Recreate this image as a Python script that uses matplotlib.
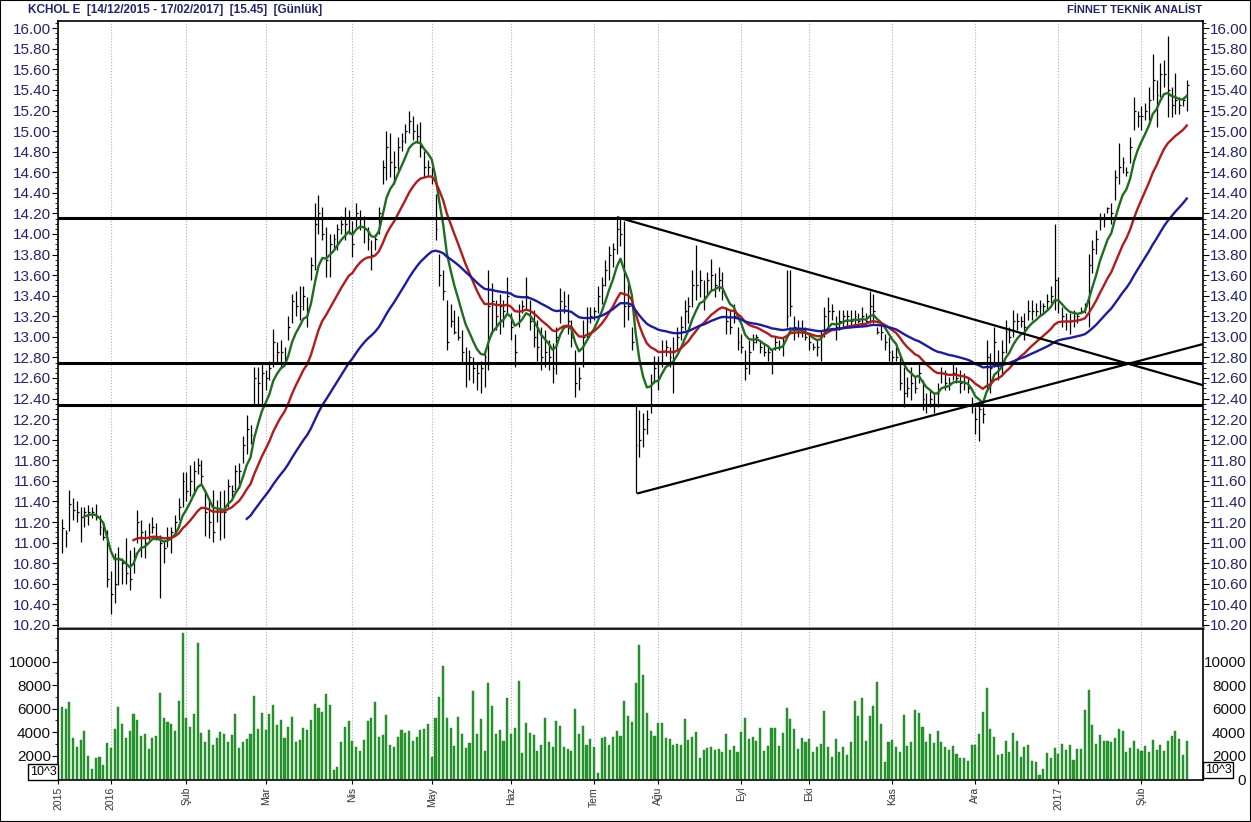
import numpy as np
import pandas as pd
import matplotlib
matplotlib.use("Agg")
import matplotlib.pyplot as plt
from matplotlib.ticker import MultipleLocator, FixedLocator, FormatStrFormatter
from matplotlib.patches import Rectangle

plt.rcParams['font.family'] = ['Liberation Sans', 'DejaVu Sans']

# daily bars, KCHOL 14/12/2015 - 17/02/2017 (trading-day order)
highs = [
    11.23, 11.12, 11.51, 11.43, 11.40, 11.35, 11.35, 11.37, 11.35, 11.38,
    11.27, 11.19, 11.12, 10.72, 10.90, 10.96, 10.85, 11.04, 10.93, 10.96,
    11.32, 11.22, 11.12, 11.19, 11.25, 11.19, 11.07, 11.03, 11.15, 11.15,
    11.27, 11.43, 11.69, 11.69, 11.75, 11.79, 11.82, 11.80, 11.51, 11.41,
    11.51, 11.41, 11.50, 11.51, 11.62, 11.56, 11.75, 11.77, 12.04, 12.24,
    12.14, 12.71, 12.71, 12.74, 12.68, 12.77, 13.08, 12.95, 12.97, 12.90,
    13.20, 13.42, 13.45, 13.49, 13.49, 13.39, 13.78, 14.30, 14.38, 14.26,
    14.07, 14.00, 14.00, 14.10, 14.17, 14.26, 14.23, 14.13, 14.30, 14.23,
    14.17, 14.07, 13.94, 14.00, 14.26, 14.72, 15.00, 14.98, 14.81, 14.94,
    14.98, 15.07, 15.20, 15.15, 15.07, 15.09, 14.81, 14.72, 14.65, 14.39,
    13.81, 13.65, 13.36, 13.32, 13.26, 13.20, 13.07, 12.90, 12.87, 12.80,
    12.74, 12.77, 12.84, 13.65, 13.52, 13.36, 13.42, 13.36, 13.58, 13.23,
    13.03, 13.32, 13.36, 13.58, 13.36, 13.26, 13.16, 13.10, 13.07, 12.97,
    12.94, 13.10, 13.47, 13.45, 13.42, 13.16, 12.87, 12.71, 13.16, 13.29,
    13.29, 13.29, 13.49, 13.58, 13.75, 13.88, 13.91, 14.17, 14.15, 14.13,
    13.52, 13.10, 12.35, 12.29, 12.26, 12.29, 12.64, 12.81, 12.81, 12.97,
    12.97, 12.90, 13.00, 13.10, 13.20, 13.36, 13.39, 13.65, 13.89, 13.65,
    13.55, 13.63, 13.76, 13.62, 13.68, 13.63, 13.29, 13.26, 13.32, 13.10,
    13.03, 12.87, 12.97, 13.03, 13.03, 12.97, 12.94, 12.90, 12.87, 13.00,
    12.97, 13.00, 13.65, 13.65, 13.20, 13.16, 13.16, 13.10, 13.03, 12.94,
    12.97, 13.07, 13.29, 13.39, 13.32, 13.20, 13.26, 13.26, 13.26, 13.26,
    13.26, 13.23, 13.29, 13.23, 13.45, 13.42, 13.10, 13.13, 13.03, 13.00,
    12.87, 12.90, 12.81, 12.71, 12.61, 12.71, 12.61, 12.74, 12.58, 12.45,
    12.48, 12.45, 12.55, 12.71, 12.68, 12.61, 12.74, 12.71, 12.68, 12.65,
    12.61, 12.42, 12.32, 12.35, 12.32, 12.97, 12.84, 13.10, 12.87, 12.97,
    13.16, 13.10, 13.26, 13.23, 13.20, 13.23, 13.36, 13.36, 13.33, 13.36,
    13.33, 13.42, 13.49, 14.10, 13.58, 13.29, 13.23, 13.23, 13.26, 13.23,
    13.29, 13.33, 13.81, 13.94, 14.04, 14.20, 14.20, 14.26, 14.30, 14.62,
    14.88, 14.75, 14.65, 14.94, 15.33, 15.20, 15.24, 15.27, 15.43, 15.75,
    15.50, 15.66, 15.69, 15.92, 15.43, 15.56, 15.33, 15.33, 15.50,
]
lows = [
    10.90, 10.96, 11.11, 11.22, 11.20, 11.01, 11.15, 11.17, 11.24, 11.22,
    11.07, 11.03, 10.57, 10.31, 10.41, 10.59, 10.60, 10.60, 10.54, 10.70,
    11.00, 10.86, 10.85, 11.03, 11.09, 11.03, 10.46, 10.80, 10.96, 10.90,
    11.09, 11.22, 11.35, 11.40, 11.45, 11.46, 11.67, 11.56, 11.06, 11.04,
    11.01, 11.20, 11.03, 11.04, 11.35, 11.43, 11.51, 11.53, 11.77, 11.86,
    11.96, 12.35, 12.35, 12.35, 12.48, 12.58, 12.71, 12.76, 12.71, 12.74,
    12.97, 13.13, 13.20, 13.16, 13.26, 13.10, 13.55, 13.65, 14.00, 13.94,
    13.58, 13.58, 13.84, 13.84, 14.00, 13.94, 14.00, 13.78, 14.07, 14.04,
    13.91, 13.84, 13.65, 13.84, 14.00, 14.49, 14.52, 14.55, 14.49, 14.62,
    14.81, 14.88, 14.98, 14.91, 14.88, 14.75, 14.55, 14.57, 14.49, 13.94,
    13.49, 13.36, 12.87, 13.10, 13.03, 12.97, 12.74, 12.51, 12.58, 12.55,
    12.48, 12.45, 12.51, 12.68, 13.03, 13.07, 13.03, 13.10, 13.23, 12.97,
    12.71, 13.10, 13.23, 13.26, 13.07, 12.90, 12.77, 12.68, 12.71, 12.68,
    12.55, 12.64, 13.13, 13.23, 13.03, 12.90, 12.42, 12.48, 12.71, 12.97,
    13.13, 13.16, 13.23, 13.32, 13.49, 13.55, 13.68, 13.81, 13.88, 13.10,
    13.16, 12.87, 11.48, 11.83, 11.93, 12.06, 12.26, 12.55, 12.48, 12.71,
    12.81, 12.71, 12.45, 12.87, 12.97, 13.07, 13.13, 13.29, 13.36, 13.39,
    13.26, 13.42, 13.45, 13.39, 13.45, 13.36, 13.03, 13.03, 13.13, 12.87,
    12.84, 12.58, 12.64, 12.87, 12.94, 12.84, 12.81, 12.77, 12.64, 12.87,
    12.87, 12.81, 13.10, 13.20, 12.97, 13.00, 13.00, 12.97, 12.87, 12.87,
    12.81, 12.77, 13.00, 13.07, 13.16, 12.97, 13.07, 13.10, 13.10, 13.10,
    13.10, 13.13, 13.10, 13.13, 13.13, 13.13, 13.03, 12.97, 12.87, 12.77,
    12.74, 12.77, 12.48, 12.32, 12.42, 12.39, 12.45, 12.55, 12.29, 12.26,
    12.32, 12.26, 12.32, 12.55, 12.48, 12.48, 12.58, 12.55, 12.45, 12.48,
    12.45, 12.26, 12.06, 11.99, 12.16, 12.48, 12.45, 12.71, 12.58, 12.64,
    12.84, 12.94, 13.00, 13.07, 13.10, 12.97, 13.16, 13.16, 13.20, 13.20,
    13.23, 13.26, 13.33, 13.26, 13.23, 13.10, 13.07, 13.03, 13.10, 13.13,
    13.23, 13.23, 13.10, 13.62, 13.81, 14.04, 14.07, 14.20, 14.10, 14.33,
    14.49, 14.59, 14.56, 14.69, 15.01, 15.04, 15.01, 15.11, 15.11, 15.30,
    15.04, 15.33, 15.43, 15.14, 15.14, 15.17, 15.17, 15.24, 15.20,
]
closes = [
    11.14, 11.09, 11.38, 11.32, 11.30, 11.25, 11.30, 11.30, 11.30, 11.25,
    11.15, 11.05, 10.65, 10.50, 10.60, 10.85, 10.80, 10.70, 10.65, 10.90,
    11.20, 11.10, 11.00, 11.10, 11.15, 11.05, 11.00, 10.95, 11.05, 11.10,
    11.20, 11.35, 11.60, 11.50, 11.60, 11.70, 11.75, 11.65, 11.30, 11.20,
    11.10, 11.30, 11.30, 11.30, 11.55, 11.50, 11.70, 11.70, 11.95, 12.10,
    12.05, 12.60, 12.55, 12.65, 12.60, 12.70, 12.95, 12.85, 12.85, 12.80,
    13.10, 13.35, 13.30, 13.30, 13.40, 13.25, 13.70, 14.10, 14.20, 14.00,
    13.75, 13.90, 13.95, 14.05, 14.10, 14.10, 14.15, 13.90, 14.20, 14.15,
    14.05, 13.95, 13.80, 13.95, 14.20, 14.65, 14.85, 14.70, 14.65, 14.85,
    14.90, 15.00, 15.10, 15.00, 14.95, 14.85, 14.65, 14.65, 14.55, 14.05,
    13.60, 13.45, 12.95, 13.15, 13.05, 13.00, 12.85, 12.75, 12.80, 12.70,
    12.65, 12.70, 12.80, 13.30, 13.35, 13.20, 13.30, 13.25, 13.40, 13.10,
    12.85, 13.20, 13.30, 13.40, 13.15, 13.00, 12.90, 12.80, 12.85, 12.80,
    12.70, 13.00, 13.35, 13.30, 13.15, 13.00, 12.55, 12.60, 13.00, 13.15,
    13.20, 13.25, 13.40, 13.50, 13.65, 13.80, 13.85, 14.05, 14.00, 13.30,
    13.30, 12.95, 11.95, 12.00, 12.10, 12.20, 12.55, 12.70, 12.60, 12.85,
    12.90, 12.80, 12.85, 13.00, 13.10, 13.25, 13.30, 13.50, 13.50, 13.55,
    13.40, 13.55, 13.60, 13.50, 13.55, 13.45, 13.15, 13.10, 13.20, 12.95,
    12.90, 12.70, 12.85, 12.95, 13.00, 12.90, 12.85, 12.85, 12.75, 12.95,
    12.90, 12.95, 13.20, 13.30, 13.10, 13.05, 13.05, 13.00, 12.95, 12.90,
    12.90, 13.00, 13.20, 13.25, 13.25, 13.10, 13.15, 13.20, 13.20, 13.15,
    13.20, 13.15, 13.20, 13.15, 13.30, 13.25, 13.05, 13.05, 12.95, 12.85,
    12.80, 12.80, 12.55, 12.45, 12.50, 12.55, 12.50, 12.65, 12.40, 12.35,
    12.40, 12.35, 12.45, 12.65, 12.55, 12.55, 12.65, 12.60, 12.55, 12.55,
    12.50, 12.35, 12.20, 12.30, 12.25, 12.80, 12.70, 12.95, 12.75, 12.85,
    13.05, 13.00, 13.15, 13.15, 13.15, 13.10, 13.25, 13.25, 13.25, 13.30,
    13.30, 13.35, 13.40, 13.55, 13.35, 13.20, 13.15, 13.15, 13.20, 13.20,
    13.25, 13.30, 13.70, 13.85, 13.95, 14.15, 14.15, 14.25, 14.20, 14.55,
    14.65, 14.70, 14.60, 14.85, 15.20, 15.15, 15.15, 15.20, 15.30, 15.50,
    15.35, 15.55, 15.55, 15.40, 15.25, 15.30, 15.25, 15.30, 15.45,
]
# volume in thousands
volumes = [
    6156, 5957, 6553, 3518, 2752, 3319, 4113, 1986, 851, 1816,
    1901, 1220, 3092, 2610, 4255, 6156, 4681, 3518, 4113, 5532,
    5021, 3660, 3830, 2553, 3518, 3660, 7348, 5191, 4823, 4681,
    4085, 6667, 12454, 5191, 4454, 5532, 11546, 3915, 3121, 4170,
    2894, 3489, 4000, 3830, 3121, 3773, 5532, 2667, 3121, 3433,
    3830, 7064, 4284, 5589, 4170, 5532, 6326, 4624, 5021, 3518,
    4454, 5277, 3121, 3319, 4369, 4198, 5050, 6355, 6043, 5730,
    7234, 6298, 766, 1050, 3177, 4426, 4936, 3262, 2752, 2411,
    3319, 4965, 5220, 6553, 3546, 3773, 5418, 2922, 2695, 3603,
    4170, 3943, 4113, 3262, 3603, 4170, 4227, 4681, 1901, 5191,
    7007, 9645, 5191, 4340, 2809, 5277, 3830, 2638, 3092, 7489,
    3858, 5106, 2411, 8199, 6241, 3801, 4170, 3262, 6894, 3801,
    4340, 8340, 2241, 4766, 3915, 3745, 2383, 2922, 5191, 3121,
    2752, 4908, 4511, 2723, 2553, 2411, 5957, 3830, 4539, 2894,
    3404, 2723, 539, 3461, 3574, 2894, 3574, 4085, 3688, 6638,
    5390, 4851, 8170, 11404, 8879, 5617, 4085, 3688, 4766, 4766,
    3489, 3376, 2894, 2979, 2894, 5106, 3291, 3574, 4028, 1759,
    2468, 2638, 2723, 2468, 2525, 2298, 3830, 2468, 2809, 2298,
    4000, 5191, 3404, 3574, 3234, 4340, 2383, 2809, 4340, 4340,
    2809, 3915, 6043, 5106, 4255, 2553, 3461, 3121, 3404, 2269,
    2723, 2979, 5787, 2723, 1872, 3404, 2298, 2752, 2043, 3121,
    6638, 5362, 6922, 3234, 5362, 6213, 8284, 4681, 1447, 3149,
    3319, 2752, 2298, 5418, 2837, 3149, 5872, 5589, 4454, 3149,
    3830, 3064, 4085, 3149, 2752, 2468, 2837, 2128, 1787, 1787,
    1532, 2894, 2894, 3830, 5730, 7773, 4255, 3603, 2043, 2128,
    3234, 2298, 3943, 3234, 1901, 2752, 2894, 1532, 1447, 369,
    851, 2213, 1816, 2667, 2128, 2979, 2468, 2865, 1617, 2553,
    2553, 5872, 7574, 4624, 2979, 3745, 3234, 3234, 3121, 3518,
    4255, 4085, 2298, 2638, 3234, 2553, 2383, 2809, 2298, 3319,
    2468, 2894, 2411, 3206, 3660, 4085, 3404, 2043, 3234,
]

month_pos = [0, 14, 34, 55, 78, 99, 120, 142, 159, 181, 199, 221, 243, 265, 287]
month_labels = ['2015', '2016', 'Şub', 'Mar', 'Nis', 'May', 'Haz', 'Tem',
                'Ağu', 'Eyl', 'Eki', 'Kas', 'Ara', '2017', 'Şub']

support_levels = [14.16, 12.75, 12.34]
trend_down_x = [148.4, 303.3]
trend_down_y = [14.16, 12.53]
trend_up_x = [153.7, 303.3]
trend_up_y = [11.48, 12.93]

ma_periods = [7, 20, 50]
ma_colors = ['#1d6e1d', '#b31b1b', '#1b1ba6']
vol_ticks = [0, 2000, 4000, 6000, 8000, 10000]

NAVY = '#24246e'


def ema(series, n):
    # exponential average seeded with the simple average of the first n closes
    seed = series.copy()
    seed.iloc[:n - 1] = np.nan
    seed.iloc[n - 1] = series.iloc[:n].mean()
    out = seed.iloc[n - 1:].ewm(span=n, adjust=False).mean()
    return out.reindex(series.index)


fig = plt.figure(figsize=(12.51, 8.22), dpi=100)
ax = fig.add_axes([58 / 1251, 1 - 628 / 822, 1145 / 1251, 607 / 822])
axv = fig.add_axes([58 / 1251, 1 - 780 / 822, 1145 / 1251, 151 / 822], sharex=ax)

x = np.arange(1, len(closes) + 1)
c = pd.Series(closes)

# price bars
ax.vlines(x, lows, highs, color='black', lw=0.9)
ax.hlines(closes, x, x + 0.5, color='black', lw=0.9)

for p, col in zip(ma_periods, ma_colors):
    ax.plot(x, ema(c, p), color=col, lw=1.7)

for lvl in support_levels:
    ax.axhline(lvl, color='black', lw=2.2)
ax.plot(trend_down_x, trend_down_y, color='black', lw=1.6)
ax.plot(trend_up_x, trend_up_y, color='black', lw=1.6)

ax.set_xlim(0, 303.3)
ax.set_ylim(10.17, 16.07)
ax.yaxis.set_major_locator(MultipleLocator(0.2))
ax.yaxis.set_minor_locator(MultipleLocator(0.05))
ax.yaxis.set_major_formatter(FormatStrFormatter('%.2f'))
ax.tick_params(axis='y', which='both', left=True, right=True, labelleft=True,
               labelright=True, labelsize=11, labelcolor=NAVY, pad=1)
ax.tick_params(axis='y', which='major', length=4)
ax.tick_params(axis='y', which='minor', length=2)
ax.tick_params(axis='x', which='both', bottom=False, labelbottom=False)
for s in ax.spines.values():
    s.set_linewidth(1.2)
ax.spines['bottom'].set_color('#888888')
ax.spines['bottom'].set_linewidth(2)

# volume
axv.bar(x, volumes, width=0.55, color='#23992a', edgecolor='#1f7f22', lw=0.3)
axv.set_ylim(-85, 12766)
axv.yaxis.set_major_locator(FixedLocator(vol_ticks[1:]))
axv.yaxis.set_minor_locator(MultipleLocator(1000))
axv.tick_params(axis='y', which='both', left=True, right=True, labelleft=True,
                labelright=False, labelsize=11, labelcolor='#111111', pad=1)
axv.tick_params(axis='y', which='major', length=4)
axv.tick_params(axis='y', which='minor', length=2)
axv.set_xticks(month_pos)
axv.set_xticklabels(month_labels, rotation=90, fontsize=7.5, color='#333333')
axv.tick_params(axis='x', length=3, pad=2)
for s in axv.spines.values():
    s.set_linewidth(1.2)

# right-hand volume labels are right aligned in the original
axr = axv.twinx()
axr.set_ylim(axv.get_ylim())
axr.yaxis.set_major_locator(FixedLocator(vol_ticks))
axr.tick_params(axis='y', which='major', length=0, labelsize=11,
                labelcolor='#111111', pad=31)
for lab in axr.get_yticklabels():
    lab.set_horizontalalignment('right')
for s in axr.spines.values():
    s.set_visible(False)

for a in (ax, axv):
    for m in month_pos:
        a.axvline(m, color='#b0b0b0', lw=0.8, ls=':', zorder=0)

# labels
fig.text(28 / 1251, 1 - 10 / 822, 'KCHOL E  [14/12/2015 - 17/02/2017]  [15.45]  [Günlük]',
         fontsize=8.5, fontweight='bold', color=NAVY, va='center', ha='left')
fig.text(1202 / 1251, 1 - 10 / 822, 'FİNNET TEKNİK ANALİST', fontsize=8,
         fontweight='bold', color=NAVY, va='center', ha='right')
box = dict(boxstyle='square,pad=0.15', fc='white', ec='black', lw=1)
fig.text(43 / 1251, 1 - 772 / 822, '10^3', fontsize=9, ha='center', va='center',
         bbox=box, zorder=5)
fig.text(1218 / 1251, 1 - 770 / 822, '10^3', fontsize=9, ha='center', va='center',
         bbox=box, zorder=5)

fig.add_artist(Rectangle((0, 0), 1, 1, transform=fig.transFigure, fill=False,
                         ec='black', lw=1.5))

fig.savefig('out.png', dpi=100)
